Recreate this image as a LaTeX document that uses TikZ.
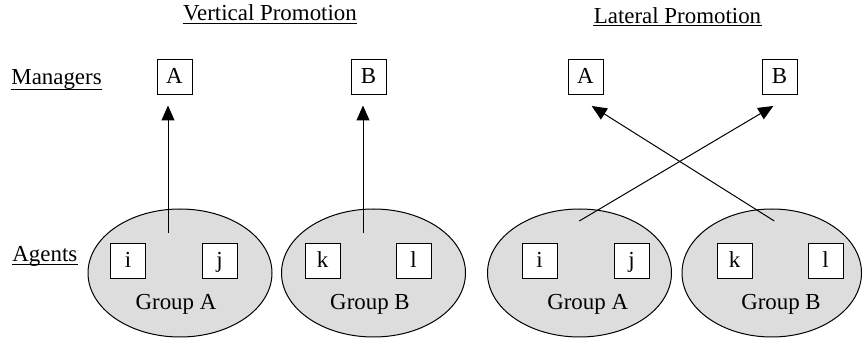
\documentclass[tikz,border=0pt]{standalone}
\usepackage{fontspec}
\setmainfont{Liberation Serif}
\usetikzlibrary{arrows.meta,shapes.geometric}
\definecolor{groupfill}{RGB}{221,221,221}
\tikzset{
  txt/.style={inner sep=0pt, anchor=base, font=\fontsize{11.45}{14}\selectfont},
  lbl/.style={inner sep=0pt, anchor=base west, font=\fontsize{11.45}{14}\selectfont},
  sq/.style={draw, line width=0.5pt, fill=white, minimum width=17.5pt, minimum height=17.5pt,
    inner sep=0pt, text height=7.5pt, text depth=1pt, font=\fontsize{11.45}{14}\selectfont},
  grp/.style={draw, line width=0.5pt, fill=groupfill, ellipse, minimum width=92pt,
    minimum height=64pt, inner sep=0pt},
  ul/.style={line width=0.5pt},
  promo/.style={line width=0.5pt, -{Triangle[length=7.5pt,width=6.5pt]}}
}
\begin{document}
\begin{tikzpicture}[x=0.5pt,y=-0.5pt]
\useasboundingbox (0,0) rectangle (862,341);
% titles
\node[txt] (tv) at (270,20.7) {Vertical Promotion};
\node[txt] (tl) at (677.5,23.3) {Lateral Promotion};
\node[lbl] (mg) at (11,84.5) {Managers};
\node[lbl] (ag) at (12,261.7) {Agents};
\draw[ul] ([yshift=-1.3pt]tv.base west) -- ([yshift=-1.3pt]tv.base east);
\draw[ul] ([yshift=-1.3pt]tl.base west) -- ([yshift=-1.3pt]tl.base east);
\draw[ul] ([yshift=-2.4pt]mg.base west) -- ([yshift=-2.4pt]mg.base east);
\draw[ul] ([yshift=-1.3pt]ag.base west) -- ([yshift=-1.3pt]ag.base east);
% groups
\node[grp] (gA1) at (180,273) {};
\node[grp] (gB1) at (373.5,273) {};
\node[grp] (gA2) at (579.5,273) {};
\node[grp, minimum width=89.75pt] (gB2) at (771.75,273) {};
\node[txt] (tA1) at (176,310) {Group A};
\node[txt] (tB1) at (370,310) {Group B};
\node[txt] (tA2) at (587.7,310) {Group A};
\node[txt] (tB2) at (781,310) {Group B};
% agents
\node[sq] (i1) at (128,261.5) {i};
\node[sq] (j1) at (219.5,261.5) {j};
\node[sq] (k1) at (322.5,261.5) {k};
\node[sq] (l1) at (413.5,261.5) {l};
\node[sq] (i2) at (539.5,261.5) {i};
\node[sq] (j2) at (631.5,261.5) {j};
\node[sq] (k2) at (734.5,261.5) {k};
\node[sq] (l2) at (825.5,261.5) {l};
% managers
\node[sq] (mA1) at (174.5,77) {A};
\node[sq] (mB1) at (368.5,77) {B};
\node[sq] (mA2) at (585.5,77) {A};
\node[sq] (mB2) at (779.5,77) {B};
% arrow end points
\coordinate (sA1) at (168,233);
\coordinate (eA1) at (168,105.5);
\coordinate (sB1) at (363,233);
\coordinate (eB1) at (363,105.5);
\coordinate (sA2) at (579.3,221);
\coordinate (eA2) at (773.3,106);
\coordinate (sB2) at (774.3,221);
\coordinate (eB2) at (591.7,106);
\draw[promo] (sA1) -- (eA1);
\draw[promo] (sB1) -- (eB1);
\draw[promo] (sA2) -- (eA2);
\draw[promo] (sB2) -- (eB2);
\end{tikzpicture}
\end{document}
